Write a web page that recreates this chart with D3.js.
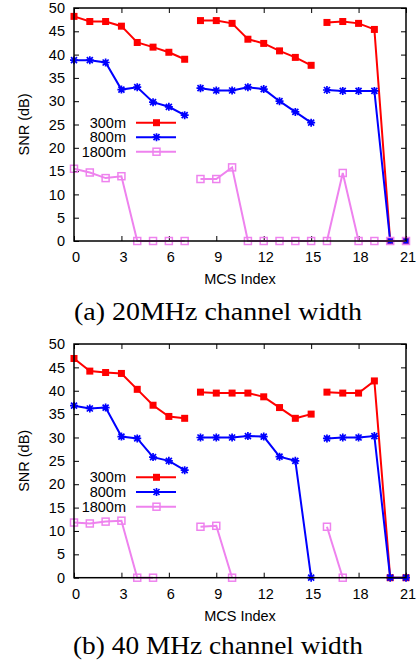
<!DOCTYPE html>
<html>
<head>
<meta charset="utf-8">
<script src="https://cdn.jsdelivr.net/npm/d3@7"></script>
<style>
    body { margin: 0; background: #fff; }
    svg text { font-family: "Liberation Sans", Arial, sans-serif; }
</style>
</head>
<body>
<svg id="chart" width="417" height="664"></svg>
<script>
(function () {
    'use strict';

    // MCS index on the x axis
    const mcsIndex = [0, 1, 2, 3, 4, 5, 6, 7, 8, 9, 10, 11, 12, 13, 14, 15, 16, 17, 18, 19, 20, 21];
    const xTicks = [0, 3, 6, 9, 12, 15, 18, 21];
    const yTicks = [0, 5, 10, 15, 20, 25, 30, 35, 40, 45, 50];
    const seriesNames = ['300m', '800m', '1800m'];
    // lines are broken between these index groups
    const groups = [[0, 7], [8, 15], [16, 21]];

    // (a) 20MHz
    const snr20_300 = [48.2, 47.1, 47.1, 46.1, 42.6, 41.6, 40.5, 39.0, 47.3, 47.3, 46.7, 43.3, 42.4, 40.8, 39.4, 37.7, 46.9, 47.1, 46.7, 45.4, 0, 0];
    const snr20_800 = [38.8, 38.8, 38.3, 32.5, 33.0, 29.8, 28.8, 27.0, 32.8, 32.3, 32.3, 33.0, 32.6, 30.0, 27.7, 25.4, 32.4, 32.2, 32.2, 32.2, 0, 0];
    const snr20_1800 = [15.5, 14.7, 13.5, 13.9, 0, 0, 0, 0, 13.3, 13.3, 15.8, 0, 0, 0, 0, 0, 0, 14.6, 0, 0, 0, 0];

    // (b) 40 MHz
    const snr40_300 = [46.9, 44.2, 43.9, 43.7, 40.3, 36.9, 34.5, 34.1, 39.7, 39.5, 39.5, 39.5, 38.7, 36.4, 34.1, 35.0, 39.7, 39.5, 39.5, 42.1, 0, 0];
    const snr40_800 = [36.8, 36.2, 36.4, 30.2, 29.8, 25.8, 25.0, 23.0, 30.0, 30.0, 30.0, 30.3, 30.2, 25.9, 25.0, 0, 29.8, 30.0, 30.0, 30.3, 0, 0];
    const snr40_1800 = [11.8, 11.6, 12.0, 12.2, 0, 0, null, null, 10.9, 11.1, 0, null, null, null, null, null, 10.9, 0, null, null, null, null];

    const left = 74;
    const right = 406;
    const fontSize = 14.5;
    const colors = ['#ff0000', '#0000ff', '#ee82ee'];

    const panels = [
        {
            top: 8, bottom: 241,
            legendY: [122.7, 137.2, 151.7],
            caption: '(a) 20MHz channel width', captionY: 319.5, captionLen: 288,
            values: [snr20_300, snr20_800, snr20_1800]
        },
        {
            top: 344, bottom: 577.7,
            legendY: [477.3, 492, 506.7],
            caption: '(b) 40 MHz channel width', captionY: 654.3, captionLen: 290,
            values: [snr40_300, snr40_800, snr40_1800]
        }
    ];

    const svg = d3.select('#chart');

    panels.forEach((p) => {
        drawPanel(p);
    });

    function drawMarker(sel, i, cx, cy) {
        if (i === 0) {
            sel.append('rect')
                .attr('x', cx - 3.5)
                .attr('y', cy - 3.5)
                .attr('width', 7)
                .attr('height', 7)
                .attr('fill', colors[0]);
        } else if (i === 1) {
            sel.append('path')
                .attr('transform', `translate(${cx}, ${cy})`)
                .attr('d', 'M-4,0H4M0,-4V4M-3,-3L3,3M-3,3L3,-3')
                .attr('stroke', colors[1])
                .attr('stroke-width', 1.7)
                .attr('fill', 'none');
        } else {
            sel.append('rect')
                .attr('x', cx - 3.5)
                .attr('y', cy - 3.5)
                .attr('width', 7)
                .attr('height', 7)
                .attr('fill', 'none')
                .attr('stroke', colors[2])
                .attr('stroke-width', 1.5);
        }
    }

    function drawPanel(p) {
        const x = d3.scaleLinear()
            .domain([0, 21])
            .range([left, right]);

        const y = d3.scaleLinear()
            .domain([0, 50])
            .range([p.bottom, p.top]);

        const g = svg.append('g');

        const styleAxis = (a) => {
            a.attr('font-size', fontSize)
                .attr('font-family', '"Liberation Sans", Arial, sans-serif');
            a.select('.domain').remove();
            a.selectAll('.tick line').attr('stroke-width', 1);
        };

        g.append('g')
            .attr('transform', `translate(0, ${p.bottom})`)
            .call(d3.axisBottom(x).tickValues(xTicks).tickSize(-5).tickSizeOuter(0).tickPadding(11))
            .call(styleAxis)
            .selectAll('.tick text')
                .attr('dx', 1.5);

        g.append('g')
            .attr('transform', `translate(0, ${p.top})`)
            .call(d3.axisTop(x).tickValues(xTicks).tickSize(-5).tickSizeOuter(0).tickFormat(''))
            .call(styleAxis);

        g.append('g')
            .attr('transform', `translate(${left}, 0)`)
            .call(d3.axisLeft(y).tickValues(yTicks).tickSize(-5).tickSizeOuter(0).tickPadding(9))
            .call(styleAxis);

        g.append('g')
            .attr('transform', `translate(${right}, 0)`)
            .call(d3.axisRight(y).tickValues(yTicks).tickSize(-5).tickSizeOuter(0).tickFormat(''))
            .call(styleAxis);

        const line = d3.line()
            .defined((d) => {
                return d.v !== null;
            })
            .x((d) => {
                return x(d.i);
            })
            .y((d) => {
                return y(d.v);
            });

        p.values.forEach((vals, s) => {
            const pts = mcsIndex.map((i) => {
                return { i: i, v: vals[i] };
            });

            groups.forEach((gr) => {
                const seg = pts.filter((d) => {
                    return d.i >= gr[0] && d.i <= gr[1];
                });
                g.append('path')
                    .datum(seg)
                    .attr('d', line)
                    .attr('fill', 'none')
                    .attr('stroke', colors[s])
                    .attr('stroke-width', 2);
            });

            const mk = g.append('g');
            pts.filter((d) => {
                return d.v !== null;
            }).forEach((d) => {
                drawMarker(mk, s, x(d.i), y(d.v));
            });
        });

        // legend
        seriesNames.forEach((name, s) => {
            const ly = p.legendY[s];
            g.append('text')
                .attr('x', 126)
                .attr('y', ly)
                .attr('dy', '0.35em')
                .attr('text-anchor', 'end')
                .attr('font-size', fontSize)
                .text(name);
            g.append('line')
                .attr('x1', 136)
                .attr('x2', 176)
                .attr('y1', ly)
                .attr('y2', ly)
                .attr('stroke', colors[s])
                .attr('stroke-width', 2);
            drawMarker(g, s, 156.5, ly);
        });

        // frame on top
        g.append('rect')
            .attr('x', left)
            .attr('y', p.top)
            .attr('width', right - left)
            .attr('height', p.bottom - p.top)
            .attr('fill', 'none')
            .attr('stroke', '#000')
            .attr('stroke-width', 1.5);

        g.append('text')
            .attr('transform', `translate(24, ${(p.top + p.bottom) / 2}) rotate(-90)`)
            .attr('text-anchor', 'middle')
            .attr('dy', '0.35em')
            .attr('font-size', fontSize)
            .text('SNR (dB)');

        g.append('text')
            .attr('x', (left + right) / 2)
            .attr('y', p.bottom + 43)
            .attr('text-anchor', 'middle')
            .attr('font-size', fontSize)
            .text('MCS Index');

        g.append('text')
            .attr('x', 218)
            .attr('y', p.captionY)
            .attr('text-anchor', 'middle')
            .attr('font-family', '"Liberation Serif", "Times New Roman", serif')
            .style('font-family', '"Liberation Serif", "Times New Roman", serif')
            .attr('font-size', 25)
            .attr('textLength', p.captionLen)
            .attr('lengthAdjust', 'spacingAndGlyphs')
            .text(p.caption);
    }
})();
</script>
</body>
</html>
